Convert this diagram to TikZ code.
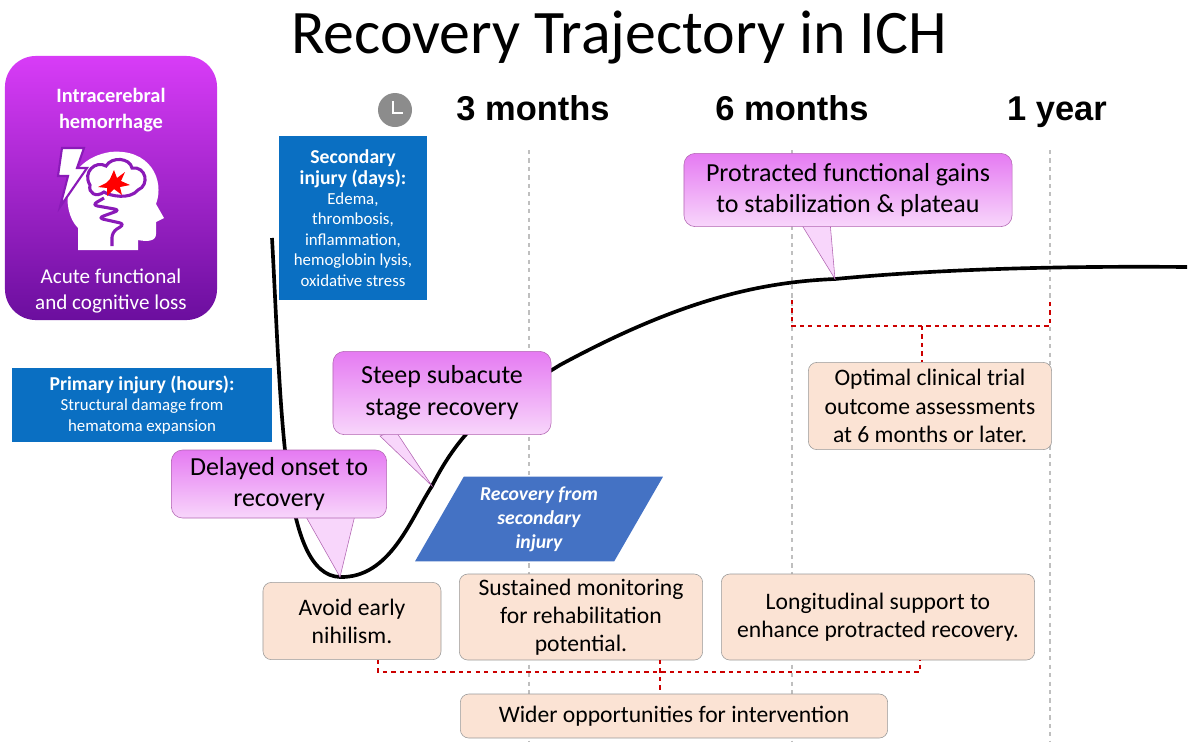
\documentclass[tikz,border=0pt]{standalone}
\usepackage{fontspec}
\setmainfont{Carlito}
\newfontfamily\heavyfont{Liberation Sans}
\usetikzlibrary{shapes.geometric, arrows, positioning, calc}
\definecolor{iceblue}{HTML}{0A6FC2}
\definecolor{slabblue}{HTML}{4472C4}
\definecolor{peach}{HTML}{FBE3D4}
\definecolor{pinktop}{HTML}{E57AF2}
\definecolor{pinkbot}{HTML}{F8D6FB}
\definecolor{violettop}{HTML}{D83CF7}
\definecolor{violetbot}{HTML}{6B0E9E}
\definecolor{iconline}{HTML}{8A1AB8}
\tikzstyle{info} = [rectangle, fill=iceblue, text=white, align=center, inner sep=2pt, font=\fontsize{12}{14.5}\selectfont]
\tikzstyle{advice} = [rectangle, rounded corners=6pt, draw=gray!80, fill=peach, align=center, font=\fontsize{16.8}{20}\selectfont]
\tikzstyle{callout} = [rectangle, rounded corners=8pt, draw=violet!60, top color=pinktop, bottom color=pinkbot, align=center, font=\fontsize{18.5}{22.5}\selectfont]
\tikzstyle{pointer} = [draw=violet!60, fill=pinkbot]
\tikzstyle{milestone} = [anchor=base, font=\heavyfont\bfseries\fontsize{24.5}{28}\selectfont]
\tikzstyle{bracket} = [red!80!black, thick, dashed]
\tikzstyle{marker} = [gray!50, thick, dashed]

\begin{document}
\begin{tikzpicture}[x=0.025cm, y=-0.025cm]
\useasboundingbox (0,0) rectangle (1200,746);

% Title
\node (title) at (619,38) {\fontsize{44}{50}\selectfont Recovery Trajectory in ICH};

% Time axis
\node (clock) [circle, fill=gray!90, minimum size=0.85cm] at (395,110) {};
\draw [white, line width=1.6pt] ($(clock)+(-2,-9)$) -- ($(clock)+(-2,3)$) -- ($(clock)+(8,3)$);
\node (m3) [milestone] at (533,120) {3 months};
\node (m6) [milestone] at (792,120) {6 months};
\node (y1) [milestone] at (1057,120) {1 year};
\foreach \x in {529,792,1050}
  \draw [marker] (\x,150) -- (\x,742);

% ICH box
\node (ich) [rectangle, rounded corners=22pt, top color=violettop, bottom color=violetbot, minimum width=5.3cm, minimum height=6.6cm] at (111,188) {};
\node (ich_title) [text=white, align=center, font=\bfseries\fontsize{14.5}{18}\selectfont] at (111,110) {Intracerebral\\hemorrhage};
\node (ich_loss) [text=white, align=center, font=\fontsize{15}{18.5}\selectfont] at (111,291) {Acute functional\\and cognitive loss};
% head icon
\fill [white] (78,250) -- (78,228) .. controls (60,210) and (62,160) .. (110,152) .. controls (150,148) and (165,180) .. (156,204) -- (164,218) -- (156,222) -- (156,234) .. controls (156,241) and (148,242) .. (138,240) -- (138,250) -- cycle;
\draw [iconline, line width=2.2pt, fill=white] (90,185) .. controls (82,172) and (96,160) .. (106,166) .. controls (112,156) and (130,158) .. (132,168) .. controls (146,166) and (150,185) .. (138,190) .. controls (130,200) and (110,196) .. (104,192) .. controls (96,198) and (88,193) .. (90,185) -- cycle;
\draw [iconline, line width=2.2pt, rounded corners=4pt] (104,198) -- (92,205) -- (120,210) -- (98,218) -- (125,224) -- (112,232) -- (112,246);
\fill [red] (110,179) -- (114,170) -- (117,178) -- (125,172) -- (121,181) -- (130,185) -- (120,187) -- (122,195) -- (114,189) -- (107,196) -- (107,188) -- (98,187) -- (106,183) -- cycle;
\draw [iconline, line width=1.5pt, fill=white] (62,148) -- (84,148) -- (77,168) -- (87,168) -- (60,207) -- (68,176) -- (58,176) -- cycle;

% Injury boxes
\node (secondary) [info, minimum width=3.68cm, minimum height=4.08cm] at (353,218) {\textbf{\fontsize{14}{17}\selectfont Secondary}\\\textbf{\fontsize{14}{17}\selectfont injury (days):}\\Edema,\\thrombosis,\\inflammation,\\hemoglobin lysis,\\oxidative stress};
\node (primary) [info, minimum width=6.5cm, minimum height=1.83cm] at (142,405) {\textbf{\fontsize{14}{17}\selectfont Primary injury (hours):}\\Structural damage from\\hematoma expansion};

% Trajectory
\coordinate (nadir) at (340,577);
\coordinate (steep) at (432,486);
\coordinate (plateau) at (835,279);
\draw [line width=2.6pt] (272,238) .. controls (282,420) and (282,575) .. (nadir)
  .. controls (390,578) and (410,520) .. (steep)
  .. controls (470,410) and (520,390) .. (560,365)
  .. controls (680,300) and (760,282) .. (plateau)
  .. controls (950,268) and (1080,266) .. (1187,267);

% Callouts
\draw [pointer] (395,430) -- (steep) -- (380,436) -- cycle;
\node (steep_call) [callout, minimum width=5.45cm, minimum height=2.08cm] at (442,393) {Steep subacute\\stage recovery};
\draw [pointer] (305,515) -- (nadir) -- (355,515) -- cycle;
\node (delay_call) [callout, minimum width=5.38cm, minimum height=1.7cm] at (279,484) {Delayed onset to\\recovery};
\draw [pointer] (800,222) -- (plateau) -- (830,222) -- cycle;
\node (gain_call) [callout, minimum width=8.2cm, minimum height=1.83cm] at (848,190) {Protracted functional gains\\to stabilization \& plateau};

\node (slab) [trapezium, trapezium left angle=60, trapezium right angle=120, fill=slabblue, text=white, align=center, minimum width=6.2cm, minimum height=1.7cm, inner sep=1pt, font=\bfseries\itshape\fontsize{14}{17}\selectfont] at (539,519) {Recovery from\\secondary\\injury};

% Advice boxes
\node (avoid) [advice, minimum width=4.45cm, minimum height=1.93cm] at (352,621) {Avoid early\\nihilism.};
\node (monitor) [advice, minimum width=6.08cm, minimum height=2.15cm] at (581,617) {Sustained monitoring\\for rehabilitation\\potential.};
\node (support) [advice, minimum width=7.83cm, minimum height=2.15cm] at (878,617) {Longitudinal support to\\enhance protracted recovery.};
\node (trial) [advice, minimum width=6.08cm, minimum height=2.18cm] at (930,406) {Optimal clinical trial\\outcome assessments\\at 6 months or later.};
\node (wider) [advice, minimum width=10.68cm, minimum height=1.1cm] at (674,716) {Wider opportunities for intervention};

% Brackets
\draw [bracket] (792,300) -- (792,326) -- (1050,326) -- (1050,300);
\draw [bracket] (922,326) -- (trial.north -| 922,0);
\draw [bracket] (378,660) -- (378,672) -- (920,672) -- (920,660);
\draw [bracket] (660,660) -- (wider.north -| 660,0);
\end{tikzpicture}
\end{document}
